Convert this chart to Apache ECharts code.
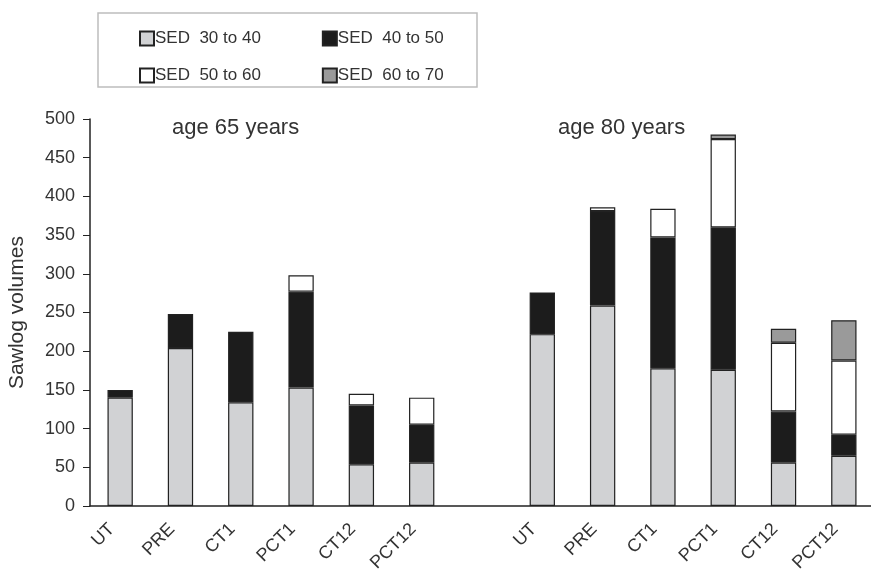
<!DOCTYPE html>
<html><head><meta charset="utf-8">
<script src="https://cdn.jsdelivr.net/npm/echarts@6/dist/echarts.min.js"></script>
<style>html,body{margin:0;padding:0;background:#fff}#c{width:871px;height:572px}</style>
</head><body><div id="c"></div>
<script>
const categories = ['UT','PRE','CT1','PCT1','CT12','PCT12','','UT','PRE','CT1','PCT1','CT12','PCT12'];
const sed30to40 = [140,204,134,153,54,56,null,222,259,178,176,56,65];
const sed40to50 = [10,44,91,124,76,49,null,54,122,169,184,66,27];
const sed50to60 = [null,null,null,21,15,35,null,null,5,37,114,89,96];
const sed60to70 = [null,null,null,null,null,null,null,null,null,null,6,18,52];
const seriesNames = ['SED  30 to 40','SED  40 to 50','SED  50 to 60','SED  60 to 70'];
const yTicks = {min:0, max:500, interval:50};

const font = 'Liberation Sans, Arial, sans-serif';
const colors = ['#d1d2d4','#1c1c1c','#ffffff','#9a9a9a'];
const data = [sed30to40, sed40to50, sed50to60, sed60to70];
const chart = echarts.init(document.getElementById('c'));
const legendCommon = {left:134, itemWidth:14, itemHeight:14, itemGap:61, icon:'rect',
  textStyle:{fontSize:17, color:'#333', padding:[0,0,0,-4]}};
chart.setOption({
  animation:false,
  backgroundColor:'#fff',
  textStyle:{fontFamily:font},
  graphic:[
    {type:'rect', shape:{x:98,y:13,width:379,height:74}, style:{fill:'none',stroke:'#bdbdbd',lineWidth:1.5}},
    {type:'text', left:172, top:117, style:{text:'age 65 years', font:'22px '+font, fill:'#333'}},
    {type:'text', left:558, top:117, style:{text:'age 80 years', font:'22px '+font, fill:'#333'}}
  ],
  legend:[
    Object.assign({data:[seriesNames[0],seriesNames[1]], top:25}, legendCommon),
    Object.assign({data:[seriesNames[2],seriesNames[3]], top:62}, legendCommon)
  ],
  grid:{left:90, top:119, width:784, bottom:66, containLabel:false, outerBoundsMode:'none'},
  xAxis:{type:'category', data:categories,
    axisLine:{lineStyle:{color:'#222',width:1.5}},
    axisTick:{lineStyle:{color:'#222'}, length:6},
    axisLabel:{rotate:45, fontSize:18, color:'#333', margin:12, interval:0, padding:[0,12,0,0]}
  },
  yAxis:{type:'value', min:yTicks.min, max:yTicks.max, interval:yTicks.interval,
    name:'Sawlog volumes', nameLocation:'middle', nameGap:62, nameRotate:90,
    nameTextStyle:{fontSize:21, color:'#333'},
    axisLine:{show:true, lineStyle:{color:'#222',width:1.5}},
    axisTick:{show:true, length:7, lineStyle:{color:'#222'}},
    splitLine:{show:false},
    axisLabel:{fontSize:18, color:'#333', margin:15}
  },
  series: data.map((d,i)=>({
    name:seriesNames[i], type:'bar', stack:'s', data:d, barWidth:'42%',
    itemStyle:{color:colors[i], borderColor:'#222', borderWidth:1.2}
  }))
});
</script></body></html>
